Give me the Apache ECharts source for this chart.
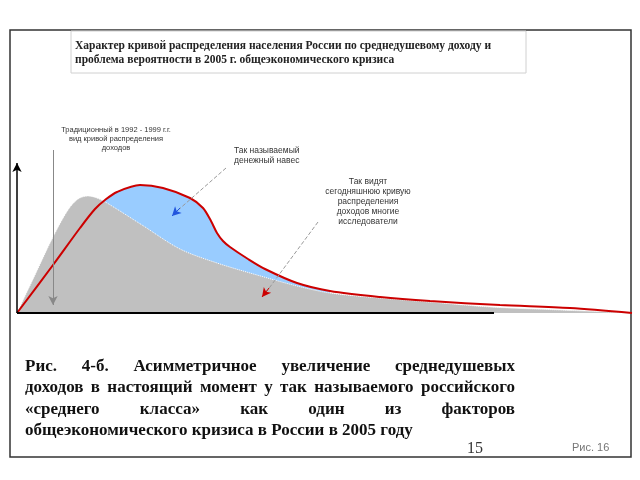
<!DOCTYPE html>
<html><head><meta charset="utf-8">
<script src="https://cdn.jsdelivr.net/npm/echarts@6/dist/echarts.min.js"></script>
<style>html,body{margin:0;padding:0;background:#fff}#c{width:640px;height:480px}</style>
</head><body><div id="c"></div>
<script>
// Income (x, arbitrary units) vs share of population (y, arbitrary units)
const traditionalCurve = [[0,0],[18,38],[36,76],[51,103],[61,114],[71,117],[80,115],[90,110],[125,88],[163,64],[200,50],[240,38],[280,27],[313,20],[363,15],[413,11],[473,6],[543,3],[615,0]];
const todayCurve = [[0,0],[36,48],[63,85],[78,104],[88,113],[100,121],[123,128],[146,125],[173,115],[186,105],[194,92],[200,80],[206,72],[213,66],[231,54],[248,44],[280,30],[313,22],[363,16],[413,12],[483,8],[553,5],[615,0]];
const overhangEnd = 313;
const axisTop = 150;
const xAxisEnd = 477;
const titleLines = ['Характер кривой распределения населения России по среднедушевому доходу и','проблема вероятности в 2005 г. общеэкономического кризиса'];
const noteTraditional = ['Традиционный в 1992 - 1999 г.г.','вид кривой распределения','доходов'];
const noteOverhang = ['Так называемый','денежный навес'];
const noteToday = ['Так видят','сегодняшнюю кривую','распределения','доходов многие','исследователи'];
const captionLines = ['Рис. 4-б. Асимметричное увеличение среднедушевых','доходов в настоящий момент у так называемого российского','«среднего класса» как один из факторов','общеэкономического кризиса в России в 2005 году'];
const captionJustify = [true,true,true,false];
const pageNo = '15';
const figNo = 'Рис. 16';

const chart = echarts.init(document.getElementById('c'));
const graphic = [];
graphic.push({type:'rect',z:0,shape:{x:10,y:30,width:621,height:427},style:{fill:null,stroke:'#333',lineWidth:1.5}});
graphic.push({type:'rect',z:0,shape:{x:71,y:31,width:455,height:42},style:{fill:null,stroke:'#d0d0d0',lineWidth:1}});
titleLines.forEach((t,i)=>graphic.push({type:'text',z:10,x:75,y:46+i*14,style:{text:t,font:'bold 11.5px "Liberation Serif"',fill:'#222',verticalAlign:'middle'}}));
noteTraditional.forEach((t,i)=>graphic.push({type:'text',z:10,x:116,y:126+i*9,style:{text:t,font:'7.5px "Liberation Sans"',fill:'#333',align:'center'}}));
noteOverhang.forEach((t,i)=>graphic.push({type:'text',z:10,x:234,y:146+i*10,style:{text:t,font:'8.5px "Liberation Sans"',fill:'#333',align:'left'}}));
noteToday.forEach((t,i)=>graphic.push({type:'text',z:10,x:368,y:177+i*10,style:{text:t,font:'8.5px "Liberation Sans"',fill:'#333',align:'center'}}));
// caption, justified
const cfont = 'bold 17px "Liberation Serif"';
const ctx = document.createElement('canvas').getContext('2d');
ctx.font = cfont;
const cx0 = 25, cx1 = 515;
captionLines.forEach((line,i)=>{
  const y = 358 + i*21.5;
  if(!captionJustify[i]){graphic.push({type:'text',z:10,x:cx0,y:y,style:{text:line,font:cfont,fill:'#111'}});return;}
  const words = line.split(' ');
  const widths = words.map(w=>ctx.measureText(w).width);
  const total = widths.reduce((a,b)=>a+b,0);
  const gap = (cx1-cx0-total)/(words.length-1);
  let x = cx0;
  words.forEach((w,j)=>{graphic.push({type:'text',z:10,x:x,y:y,style:{text:w,font:cfont,fill:'#111'}});x+=widths[j]+gap;});
});
graphic.push({type:'text',z:10,x:467,y:441,style:{text:pageNo,font:'16px "Liberation Serif"',fill:'#333'}});
graphic.push({type:'text',z:10,x:572,y:442,style:{text:figNo,font:'11px "Liberation Sans"',fill:'#777'}});

const ml = (a,b,color,type,symA,symB,w)=>[{coord:a,symbol:symA,lineStyle:{color:color,type:type,width:w||1}},{coord:b,symbol:symB}];

chart.setOption({
  animation:false,
  grid:{left:17,right:8,top:113,bottom:167},
  xAxis:{type:'value',min:0,max:615,axisLine:{show:false},axisTick:{show:false},axisLabel:{show:false},splitLine:{show:false}},
  yAxis:{type:'value',min:0,max:200,axisLine:{show:false},axisTick:{show:false},axisLabel:{show:false},splitLine:{show:false}},
  graphic:graphic,
  series:[
    {type:'line',z:1,smooth:0.3,showSymbol:false,data:todayCurve.filter(p=>p[0]<=overhangEnd),lineStyle:{width:0},areaStyle:{color:'#99ccff',opacity:1}},
    {type:'line',z:2,smooth:0.3,showSymbol:false,data:traditionalCurve,lineStyle:{color:'#ffffff',width:1,type:'dotted'},areaStyle:{color:'#c0c0c0',opacity:1}},
    {type:'line',z:3,smooth:0.3,showSymbol:false,data:todayCurve,lineStyle:{color:'#cc0000',width:2},
     markLine:{silent:true,animation:false,label:{show:false},symbolSize:[7,9],
       data:[
         ml([0,0],[xAxisEnd,0],'#000','solid','none','none',2),
         ml([0,0],[0,axisTop],'#000','solid','none','arrow',1.5),
         ml([36,163],[36,8],'#888','solid','none','arrow'),
         ml([209,145],[160,102],'#999','dashed','none','none'),
         ml([163,105],[155,97],'#2255dd','solid','none','arrow'),
         ml([301,91],[250,22],'#999','dashed','none','none'),
         ml([252,25],[245,16],'#cc0000','solid','none','arrow')
       ]}}
  ]
});
</script></body></html>
